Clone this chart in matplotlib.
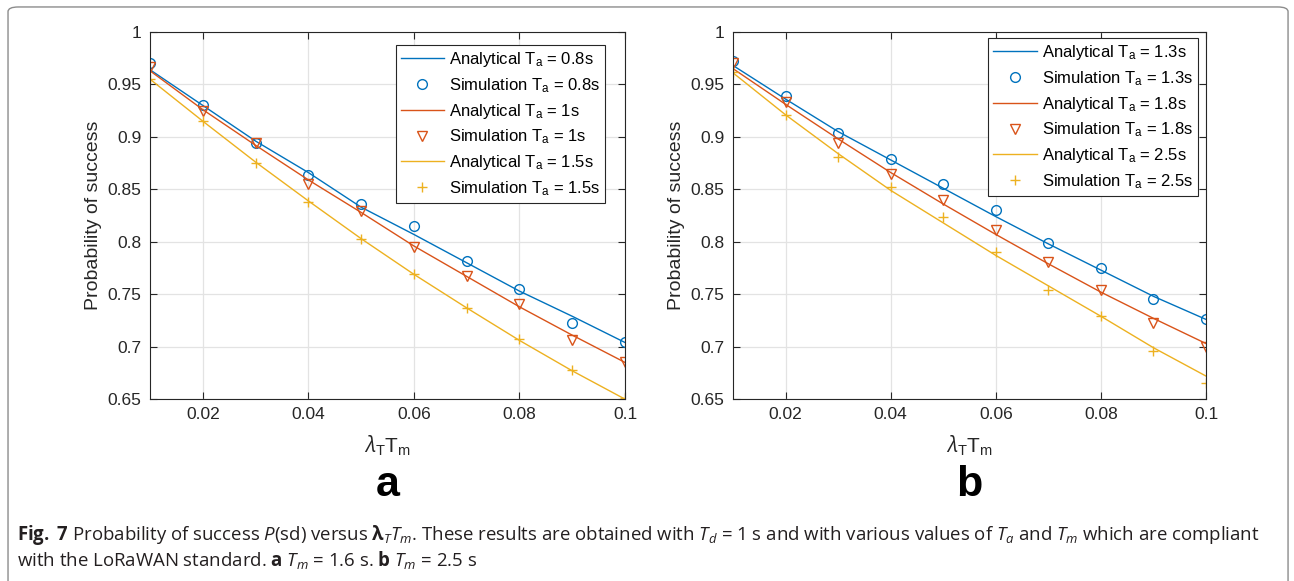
import matplotlib.pyplot as plt
from matplotlib.patches import FancyBboxPatch

plt.rcParams['font.family'] = ['Liberation Sans', 'DejaVu Sans']
plt.rcParams['mathtext.fontset'] = 'custom'
plt.rcParams['mathtext.rm'] = 'Liberation Sans'
plt.rcParams['mathtext.it'] = 'Open Sans:italic'
plt.rcParams['mathtext.bf'] = 'Open Sans:bold'

# lambda_T * T_m
x = [0.01, 0.02, 0.03, 0.04, 0.05, 0.06, 0.07, 0.08, 0.09, 0.1]

# panel a (T_m = 1.6 s)
ta_a = ['0.8', '1', '1.5']
ana_a_08 = [0.964, 0.930, 0.896, 0.866, 0.833, 0.807, 0.780, 0.753, 0.729, 0.704]
sim_a_08 = [0.970, 0.930, 0.894, 0.864, 0.836, 0.815, 0.782, 0.755, 0.723, 0.704]
ana_a_1 = [0.963, 0.926, 0.892, 0.859, 0.828, 0.796, 0.767, 0.738, 0.711, 0.685]
sim_a_1 = [0.967, 0.925, 0.894, 0.855, 0.829, 0.795, 0.767, 0.741, 0.706, 0.685]
ana_a_15 = [0.955, 0.915, 0.876, 0.839, 0.803, 0.769, 0.737, 0.706, 0.677, 0.650]
sim_a_15 = [0.955, 0.915, 0.875, 0.838, 0.803, 0.769, 0.737, 0.707, 0.678, 0.651]

# panel b (T_m = 2.5 s)
ta_b = ['1.3', '1.8', '2.5']
ana_b_13 = [0.968, 0.936, 0.905, 0.878, 0.851, 0.824, 0.798, 0.773, 0.748, 0.726]
sim_b_13 = [0.972, 0.939, 0.904, 0.879, 0.855, 0.830, 0.799, 0.775, 0.745, 0.726]
ana_b_18 = [0.965, 0.931, 0.898, 0.866, 0.836, 0.807, 0.779, 0.752, 0.727, 0.703]
sim_b_18 = [0.970, 0.933, 0.894, 0.865, 0.840, 0.811, 0.781, 0.754, 0.723, 0.700]
ana_b_25 = [0.961, 0.921, 0.884, 0.849, 0.818, 0.787, 0.758, 0.729, 0.699, 0.672]
sim_b_25 = [0.962, 0.921, 0.881, 0.852, 0.824, 0.790, 0.754, 0.729, 0.696, 0.665]

colors = ['#0072BD', '#D95319', '#EDB120']
markers = ['o', 'v', '+']

fig = plt.figure(figsize=(12.94, 5.81), dpi=100)

# rounded frame round the whole figure (bottom edge runs off the picture)
frame = FancyBboxPatch((0.0062, -0.05), 0.9892, 1.038, boxstyle='round,pad=0,rounding_size=0.008',
                       transform=fig.transFigure, fill=False, edgecolor='#8c8c8c', linewidth=1.0)
fig.patches.append(frame)


def draw_panel(ax, tas, analytic, simulated, letter, leg_anchor):
    for i in range(3):
        lab = r'T$_{\mathregular{a}}$ = ' + tas[i] + 's'
        ax.plot(x, analytic[i], color=colors[i], linewidth=1.0, label='Analytical ' + lab)
        if markers[i] == '+':
            ax.plot(x, simulated[i], linestyle='none', marker='+', markersize=7,
                    color=colors[i], markeredgewidth=1.0, label='Simulation ' + lab)
        else:
            ax.plot(x, simulated[i], linestyle='none', marker=markers[i], markersize=7,
                    markerfacecolor='none', markeredgecolor=colors[i], markeredgewidth=1.0,
                    label='Simulation ' + lab)
    ax.set_xlim(0.01, 0.1)
    ax.set_ylim(0.65, 1.0)
    ax.set_xticks([0.02, 0.04, 0.06, 0.08, 0.1])
    ax.set_xticklabels(['0.02', '0.04', '0.06', '0.08', '0.1'])
    ax.set_yticks([0.65, 0.7, 0.75, 0.8, 0.85, 0.9, 0.95, 1.0])
    ax.set_yticklabels(['0.65', '0.7', '0.75', '0.8', '0.85', '0.9', '0.95', '1'])
    ax.grid(True, color='#e3e3e3', linewidth=0.9)
    ax.set_axisbelow(True)
    ax.tick_params(direction='in', top=True, right=True, labelsize=12.5, colors='#262626',
                   length=5, width=0.8, pad=6)
    for s in ax.spines.values():
        s.set_color('#262626')
        s.set_linewidth(0.8)
    ax.set_ylabel('Probability of success', fontsize=14, color='#262626', labelpad=4)
    ax.set_xlabel(r'$\lambda_{\mathregular{T}}\mathregular{T}_{\mathregular{m}}$', fontsize=15,
                  color='#262626', labelpad=8)
    leg = ax.legend(loc='upper right', bbox_to_anchor=leg_anchor, fontsize=12, frameon=True,
                    fancybox=False, edgecolor='#262626', borderpad=0.3, labelspacing=0.42,
                    handlelength=2.6, handletextpad=0.3, borderaxespad=0.0, framealpha=1)
    leg.get_frame().set_linewidth(0.8)
    ax.text(0.5, -0.235, letter, transform=ax.transAxes, ha='center', va='center',
            fontsize=31, fontweight='bold')


ax1 = fig.add_axes([0.1159, 0.313, 0.3671, 0.632])
draw_panel(ax1, ta_a, [ana_a_08, ana_a_1, ana_a_15], [sim_a_08, sim_a_1, sim_a_15], 'a',
           (0.958, 0.965))

ax2 = fig.add_axes([0.5665, 0.313, 0.3655, 0.632])
draw_panel(ax2, ta_b, [ana_b_13, ana_b_18, ana_b_25], [sim_b_13, sim_b_18, sim_b_25], 'b',
           (0.983, 0.984))

cap1 = (r'$\mathbf{Fig.}$ $\mathbf{7}$ Probability of success $P$(sd) versus $\mathbf{\lambda}_T T_m$. '
        r'These results are obtained with $T_d$ = 1 s and with various values of $T_a$ and $T_m$ '
        r'which are compliant')
cap2 = r'with the LoRaWAN standard. $\mathbf{a}$ $T_m$ = 1.6 s. $\mathbf{b}$ $T_m$ = 2.5 s'
fig.text(0.013, 1 - 535 / 581, cap1, fontsize=13.4, va='center', ha='left', color='#231f20',
         family='Open Sans')
fig.text(0.013, 1 - 560 / 581, cap2, fontsize=13.4, va='center', ha='left', color='#231f20',
         family='Open Sans')

fig.savefig('out.png', dpi=100)
